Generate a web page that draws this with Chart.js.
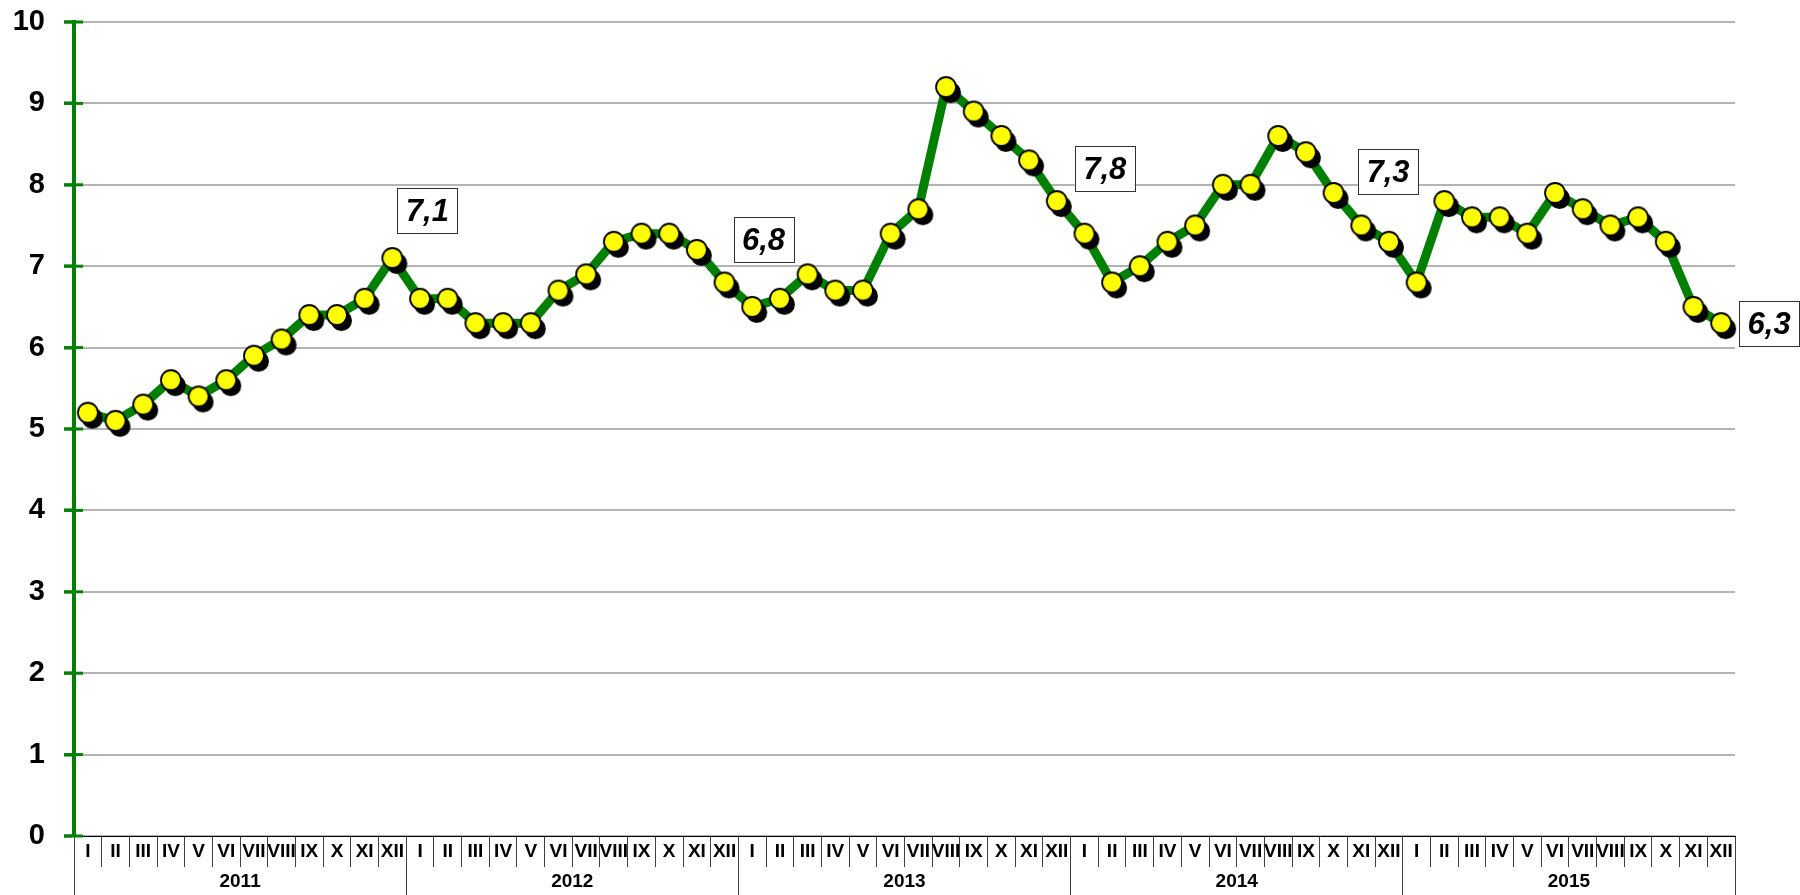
<!DOCTYPE html>
<html>
<head>
<meta charset="utf-8">
<script src="https://cdn.jsdelivr.net/npm/chart.js@4"></script>
<style>
  html, body { margin: 0; padding: 0; background: #ffffff; }
  #wrap { width: 1800px; height: 895px; }
</style>
</head>
<body>
<div id="wrap"><canvas id="rateChart" width="1800" height="895"></canvas></div>
<script>
// Data
const years = ["2011", "2012", "2013", "2014", "2015"];
const months = ["I", "II", "III", "IV", "V", "VI", "VII", "VIII", "IX", "X", "XI", "XII"];
const values2011 = [5.2, 5.1, 5.3, 5.6, 5.4, 5.6, 5.9, 6.1, 6.4, 6.4, 6.6, 7.1];
const values2012 = [6.6, 6.6, 6.3, 6.3, 6.3, 6.7, 6.9, 7.3, 7.4, 7.4, 7.2, 6.8];
const values2013 = [6.5, 6.6, 6.9, 6.7, 6.7, 7.4, 7.7, 9.2, 8.9, 8.6, 8.3, 7.8];
const values2014 = [7.4, 6.8, 7.0, 7.3, 7.5, 8.0, 8.0, 8.6, 8.4, 7.9, 7.5, 7.3];
const values2015 = [6.8, 7.8, 7.6, 7.6, 7.4, 7.9, 7.7, 7.5, 7.6, 7.3, 6.5, 6.3];
const yTicks = [0, 1, 2, 3, 4, 5, 6, 7, 8, 9, 10];

const labels = years.flatMap(() => months);
const values = [].concat(values2011, values2012, values2013, values2014, values2015);

// Boxed December labels: offset of the box centre from its point
const boxOffsets = [
  { index: 11, dx: 35, dy: -48 },
  { index: 23, dx: 39, dy: -43 },
  { index: 35, dx: 48, dy: -33 },
  { index: 47, dx: -1, dy: -70 },
  { index: 59, dx: 48, dy: 0 },
];

const FONT = "'Liberation Sans', Arial, sans-serif";
const GREEN = "#008000";

// Marker: yellow disc with a black drop shadow
const marker = document.createElement("canvas");
marker.width = 38;
marker.height = 38;
(function () {
  const m = marker.getContext("2d");
  m.fillStyle = "#000";
  m.beginPath();
  m.arc(23.5, 24.5, 10.5, 0, Math.PI * 2);
  m.fill();
  m.fillStyle = "#ffff00";
  m.strokeStyle = "#000";
  m.lineWidth = 1.8;
  m.beginPath();
  m.arc(19, 19, 10, 0, Math.PI * 2);
  m.fill();
  m.stroke();
})();

const extras = {
  id: "extras",
  afterDraw(chart) {
    const ctx = chart.ctx;
    const y = chart.scales.y;
    // green tick marks crossing the y axis
    ctx.save();
    ctx.strokeStyle = GREEN;
    ctx.lineWidth = 3;
    y.ticks.forEach((t) => {
      const py = y.getPixelForValue(t.value);
      ctx.beginPath();
      ctx.moveTo(y.right - 10, py);
      ctx.lineTo(y.right + 9, py);
      ctx.stroke();
    });
    // boxed value labels
    const meta = chart.getDatasetMeta(0);
    ctx.font = "italic bold 31px " + FONT;
    ctx.textAlign = "center";
    ctx.textBaseline = "middle";
    boxOffsets.forEach((b) => {
      const pt = meta.data[b.index];
      const cx = pt.x + b.dx;
      const cy = pt.y + b.dy;
      const w = 60, h = 45;
      ctx.fillStyle = "#fff";
      ctx.fillRect(cx - w / 2, cy - h / 2, w, h);
      ctx.strokeStyle = "#333";
      ctx.lineWidth = 1;
      ctx.strokeRect(Math.round(cx - w / 2) + 0.5, Math.round(cy - h / 2) + 0.5, w, h);
      ctx.fillStyle = "#000";
      ctx.fillText(values[b.index].toFixed(1).replace(".", ","), cx, cy + 2);
    });
    ctx.restore();
  },
};

const ctx = document.getElementById("rateChart").getContext("2d");
const rateChart = new Chart(ctx, {
  type: "line",
  data: {
    labels: labels,
    datasets: [
      {
        data: values,
        borderColor: GREEN,
        borderWidth: 9,
        borderJoinStyle: "round",
        tension: 0,
        pointStyle: marker,
        pointRadius: 10,
        pointHoverRadius: 10,
      },
    ],
  },
  options: {
    responsive: false,
    maintainAspectRatio: false,
    animation: false,
    layout: { padding: { top: 22, right: 65, left: 0, bottom: 0 } },
    plugins: {
      legend: { display: false },
      tooltip: { enabled: false },
    },
    scales: {
      x: {
        type: "category",
        position: "bottom",
        offset: true,
        grid: {
          offset: true,
          drawOnChartArea: false,
          drawTicks: true,
          tickLength: 31,
          color: "#404040",
          lineWidth: 1,
        },
        border: { color: "#000", width: 1 },
        ticks: {
          autoSkip: false,
          maxRotation: 0,
          minRotation: 0,
          color: "#000",
          font: { family: FONT, size: 19, weight: "bold" },
          padding: -27,
        },
        afterFit: (s) => { s.height = 31; },
      },
      x2: {
        type: "category",
        position: "bottom",
        labels: years,
        offset: true,
        grid: {
          offset: true,
          drawOnChartArea: false,
          drawTicks: true,
          tickLength: 28,
          color: "#404040",
          lineWidth: 1,
        },
        border: { display: false },
        ticks: {
          maxRotation: 0,
          color: "#000",
          font: { family: FONT, size: 19, weight: "bold" },
          padding: -25,
        },
        afterFit: (s) => { s.height = 28; },
      },
      y: {
        min: 0,
        max: 10,
        afterBuildTicks: (s) => { s.ticks = yTicks.map((v) => ({ value: v })); },
        grid: {
          color: "#b4b4b4",
          lineWidth: 2,
          tickColor: GREEN,
          tickLength: 10,
          tickWidth: 3,
        },
        border: { color: GREEN, width: 4 },
        ticks: {
          color: "#000",
          font: { family: FONT, size: 29, weight: "bold" },
          padding: 19,
        },
        afterFit: (s) => {
          s.width = 74;
          s.paddingTop = 0;
          s.paddingBottom = 0;
        },
      },
    },
  },
  plugins: [extras],
});
</script>
</body>
</html>
